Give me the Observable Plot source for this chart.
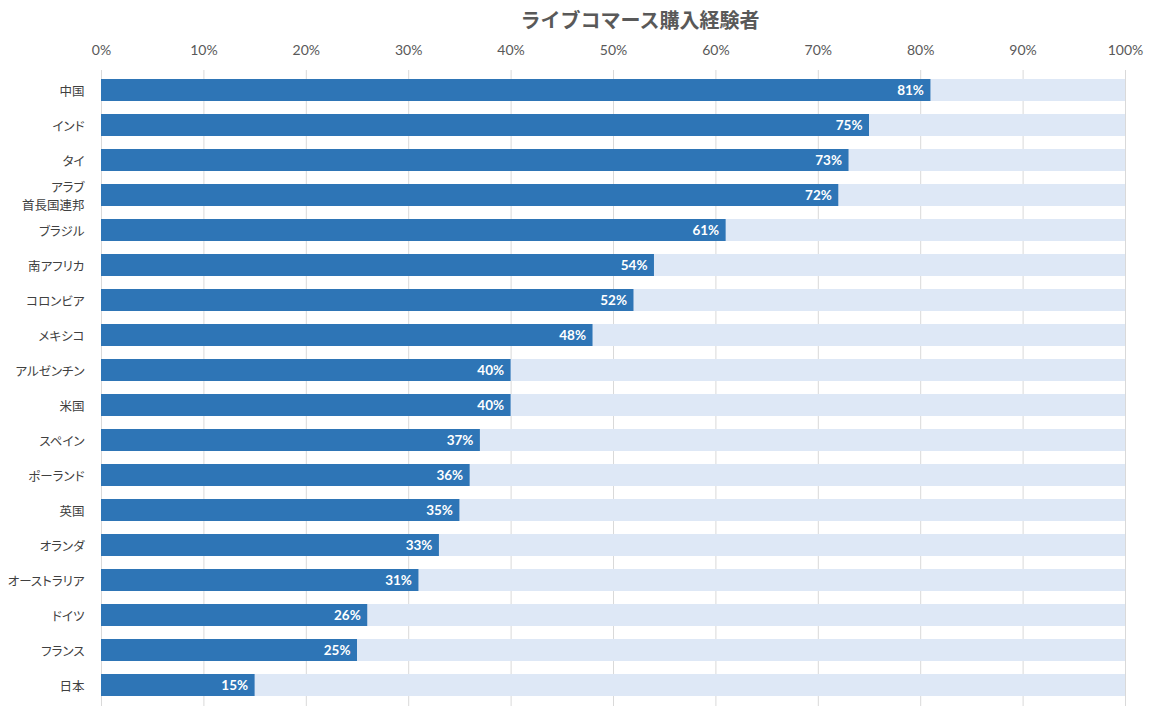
<!DOCTYPE html>
<html><head><meta charset="utf-8">
<script src="https://cdn.jsdelivr.net/npm/d3@7"></script>
<script src="https://cdn.jsdelivr.net/npm/@observablehq/plot@0.6"></script>
<style>
body{margin:0;background:#fff;}
#title{position:absolute;left:0;top:6px;width:1280px;text-align:center;font:bold 20px "Noto Sans CJK JP",sans-serif;color:#595959;line-height:28px;}
#chart{position:absolute;left:0;top:35px;}
#chart svg text{font-feature-settings:"palt";}
</style></head>
<body>
<div id="title">ライブコマース購入経験者</div>
<div id="chart"></div>
<script>
const countries = ["中国","インド","タイ","アラブ\n首長国連邦","ブラジル","南アフリカ","コロンビア","メキシコ","アルゼンチン","米国","スペイン","ポーランド","英国","オランダ","オーストラリア","ドイツ","フランス","日本"];
const values = [81,75,73,72,61,54,52,48,40,40,37,36,35,33,31,26,25,15];
const xTicks = [0,10,20,30,40,50,60,70,80,90,100];
const data = countries.map((c,i)=>({country:c, value:values[i]}));

const plot = Plot.plot({
  width:1156, height:680,
  marginLeft:101, marginRight:31, marginTop:35, marginBottom:9,
  style:{fontFamily:"Lato, 'Noto Sans CJK JP', sans-serif", fontSize:"14px", color:"#595959", background:"#fff"},
  x:{domain:[0,100], ticks:xTicks, tickFormat:d=>d+"%", axis:"top", tickSize:0, tickPadding:16, label:null},
  y:{domain:countries, paddingInner:0.37, paddingOuter:0.185, label:null, axis:null},
  marks:[
    Plot.gridX(xTicks,{stroke:"#d9d9d9", strokeOpacity:1}),
    Plot.barX(data,{y:"country", x1:0, x2:100, fill:"#dee8f6"}),
    Plot.barX(data,{y:"country", x1:0, x2:"value", fill:"#2e75b6"}),
    Plot.text(data,{y:"country", x:"value", text:d=>d.value+"%", textAnchor:"end", dx:-7, fill:"#fff", fontWeight:"bold", fontSize:13.5}),
    Plot.axisY({tickSize:0, tickPadding:17, fontFamily:"'Noto Sans CJK JP', sans-serif", fontSize:12.5, fill:"#404040", lineHeight:1.4})
  ]
});
document.getElementById("chart").appendChild(plot);
</script>
</body></html>
